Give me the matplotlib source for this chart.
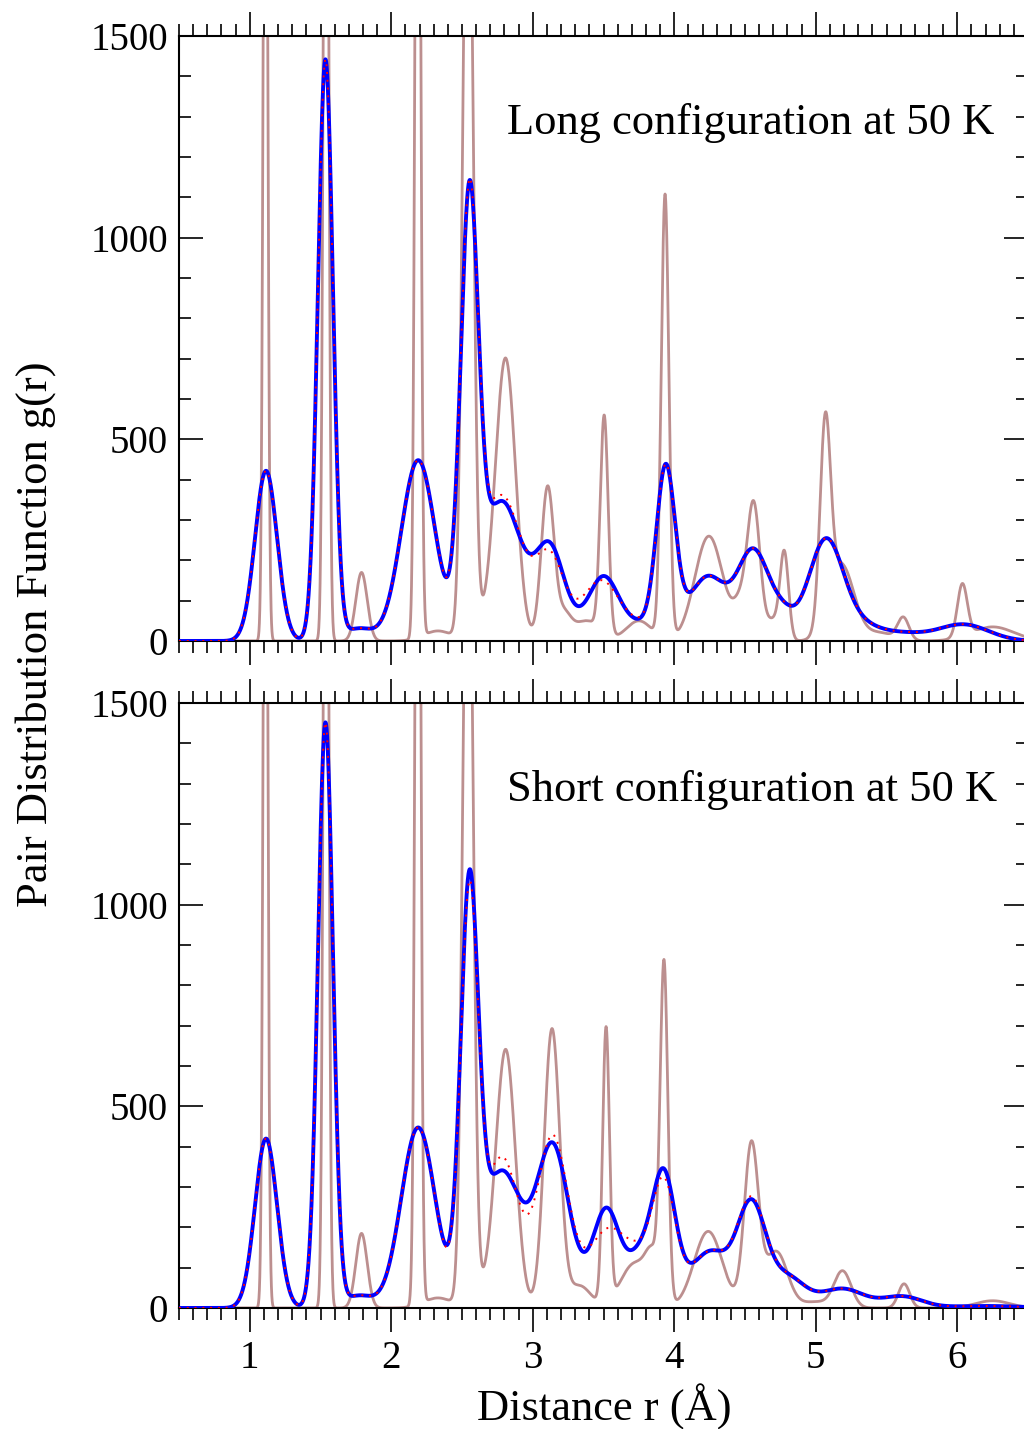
import numpy as np
import matplotlib
matplotlib.use("Agg")
import matplotlib.pyplot as plt
from matplotlib.ticker import MultipleLocator

# ---- data: peak tables (centre r in Angstrom, height, width sigma) ----
# Long configuration (top panel)
brown_top_center = [1.111, 1.539, 1.79, 2.188, 2.33, 2.542, 2.70, 2.81, 3.105, 3.22, 3.38, 3.505,
                    3.75, 3.935, 4.245, 4.47, 4.562, 4.70, 4.778, 5.067, 5.18, 5.45, 5.619, 6.036, 6.25]
brown_top_height = [2700, 3000, 170, 3000, 25, 2200, 55, 680, 380, 60, 50, 540,
                    50, 1100, 260, 80, 330, 50, 210, 480, 190, 20, 55, 130, 35]
brown_top_width = [0.015, 0.017, 0.04, 0.018, 0.10, 0.035, 0.08, 0.07, 0.045, 0.05, 0.09, 0.028,
                   0.09, 0.027, 0.10, 0.05, 0.045, 0.05, 0.03, 0.037, 0.09, 0.10, 0.04, 0.035, 0.15]

blue_top_center = [1.115, 1.535, 1.77, 2.19, 2.552, 2.78, 3.12, 3.50, 3.94, 4.24, 4.56, 4.77,
                   5.07, 5.30, 5.62, 6.04, 3.8]
blue_top_height = [422, 1440, 30, 445, 1040, 330, 200, 120, 390, 122, 200, 40,
                   235, 36, 15, 41, 45]
blue_top_width = [0.078, 0.053, 0.10, 0.12, 0.062, 0.14, 0.10, 0.10, 0.065, 0.12, 0.11, 0.08,
                  0.12, 0.15, 0.15, 0.18, 0.7]

red_top_center = [1.115, 1.535, 1.77, 2.19, 2.552, 2.78, 3.12, 3.48, 3.94, 4.24, 4.56, 4.77,
                  5.07, 5.30, 5.62, 6.04, 3.8]
red_top_height = [422, 1440, 30, 445, 1040, 345, 178, 110, 390, 122, 200, 40,
                  235, 36, 15, 41, 45]
red_top_width = [0.078, 0.053, 0.10, 0.12, 0.062, 0.14, 0.10, 0.12, 0.065, 0.12, 0.11, 0.08,
                 0.12, 0.15, 0.15, 0.18, 0.7]

# Short configuration (bottom panel)
brown_bot_center = [1.111, 1.539, 1.79, 2.188, 2.33, 2.542, 2.70, 2.811, 3.136, 3.33, 3.518, 3.72,
                    3.85, 3.928, 4.24, 4.545, 4.72, 5.0, 5.19, 5.624, 6.25]
brown_bot_height = [2700, 3000, 185, 3000, 25, 2200, 55, 620, 690, 55, 680, 110,
                    100, 820, 190, 400, 140, 15, 90, 60, 18]
brown_bot_width = [0.015, 0.017, 0.04, 0.018, 0.10, 0.035, 0.08, 0.068, 0.055, 0.08, 0.024, 0.10,
                   0.05, 0.027, 0.10, 0.05, 0.08, 0.10, 0.06, 0.04, 0.12]

blue_bot_center = [1.115, 1.535, 1.77, 2.19, 2.552, 2.78, 3.14, 3.52, 3.76, 3.925, 4.26, 4.545,
                   4.80, 5.19, 5.61, 6.2, 3.7]
blue_bot_height = [420, 1450, 30, 445, 987, 320, 360, 190, 70, 280, 100, 235,
                   65, 45, 28, 5, 60]
blue_bot_width = [0.078, 0.053, 0.10, 0.12, 0.062, 0.14, 0.11, 0.09, 0.08, 0.08, 0.12, 0.10,
                  0.12, 0.15, 0.14, 0.25, 0.6]

red_bot_center = [1.115, 1.535, 1.77, 2.19, 2.552, 2.78, 3.14, 3.54, 3.76, 3.925, 4.26, 4.545,
                  4.80, 5.19, 5.61, 6.2, 3.7]
red_bot_height = [420, 1450, 30, 445, 987, 355, 385, 140, 45, 260, 100, 242,
                  65, 45, 28, 5, 60]
red_bot_width = [0.078, 0.053, 0.10, 0.12, 0.062, 0.12, 0.105, 0.135, 0.08, 0.08, 0.12, 0.10,
                 0.12, 0.15, 0.14, 0.25, 0.6]

x_ticks = [1, 2, 3, 4, 5, 6]
y_ticks = [0, 500, 1000, 1500]
panel_titles = ["Long configuration at 50 K", "Short configuration at 50 K"]

# ---- build curves ----
r = np.linspace(0.5, 6.5, 6001)


def profile(centers, heights, widths):
    c = np.asarray(centers, float)[:, None]
    h = np.asarray(heights, float)[:, None]
    w = np.asarray(widths, float)[:, None]
    return (h * np.exp(-0.5 * ((r[None, :] - c) / w) ** 2)).sum(axis=0)


panels = [
    (profile(brown_top_center, brown_top_height, brown_top_width),
     profile(blue_top_center, blue_top_height, blue_top_width),
     profile(red_top_center, red_top_height, red_top_width)),
    (profile(brown_bot_center, brown_bot_height, brown_bot_width),
     profile(blue_bot_center, blue_bot_height, blue_bot_width),
     profile(red_bot_center, red_bot_height, red_bot_width)),
]

plt.rcParams['font.family'] = ['Liberation Serif', 'DejaVu Serif']

W, H = 1024, 1429
fig = plt.figure(figsize=(W / 100, H / 100), dpi=100)
ax_top = fig.add_axes([179 / W, 1 - 641 / H, 849 / W, 605 / H])
ax_bot = fig.add_axes([179 / W, 1 - 1308 / H, 849 / W, 605 / H])

for i, (ax, (brown, blue, red)) in enumerate(zip([ax_top, ax_bot], panels)):
    ax.plot(r, brown, color='#BC8F8F', lw=2.0, zorder=2)
    ax.plot(r, blue, color='#0000FF', lw=2.8, zorder=3, solid_capstyle='round')
    ax.plot(r, red, color='#FF0000', lw=1.4, linestyle=(0, (1, 3)), zorder=4)
    ax.set_xlim(0.5, 6.5)
    ax.set_ylim(0, 1500)
    ax.set_xticks(x_ticks)
    ax.set_yticks(y_ticks)
    ax.xaxis.set_minor_locator(MultipleLocator(0.1))
    ax.yaxis.set_minor_locator(MultipleLocator(100))
    ax.tick_params(axis='x', which='both', direction='out', top=True, bottom=True,
                   labelsize=28, pad=6, width=1.2)
    ax.tick_params(axis='y', which='both', direction='in', left=True, right=True,
                   labelsize=28, pad=8, width=1.2)
    ax.tick_params(which='major', length=17)
    ax.tick_params(which='minor', length=8.6)
    for s in ax.spines.values():
        s.set_linewidth(1.5)
    if i == 0:
        ax.tick_params(axis='x', labelbottom=False)
    ax.text(2.818, 1257, panel_titles[i], fontsize=32, ha='left', va='baseline')

fig.text(36 / W, 1 - 634 / H, 'Pair Distribution Function g(r)', rotation=90,
         fontsize=32, ha='center', va='center')
fig.text(604 / W, 1 - 1407 / H, 'Distance r (Å)', fontsize=32, ha='center', va='center')

fig.savefig('out.png', dpi=100)
